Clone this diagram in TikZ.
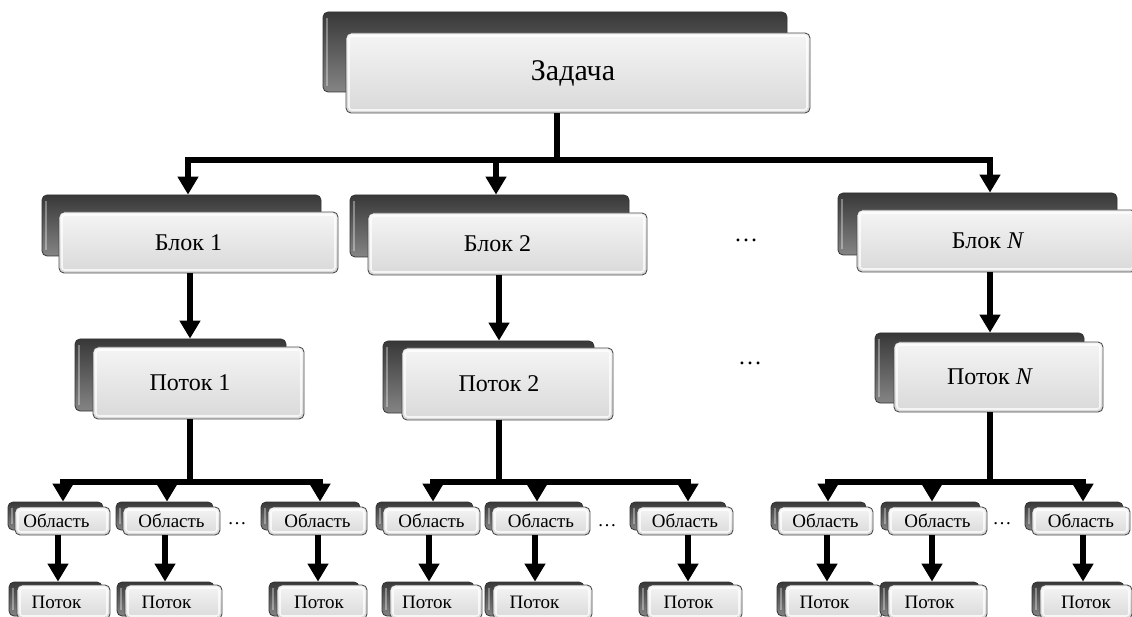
\documentclass[tikz,border=0pt]{standalone}
\usepackage{fontspec}
\setmainfont{Liberation Serif}
\usetikzlibrary{arrows.meta}
\tikzset{
  frontbox/.style={draw=black!70, line width=0.9pt, rounded corners=5pt, inner sep=0pt,
    top color=gray!8, bottom color=gray!30,
    path picture={\draw[white,opacity=.75,line width=1.6pt,rounded corners=3pt]
      ([shift={(3pt,-3pt)}]path picture bounding box.north west) rectangle
      ([shift={(-3pt,3pt)}]path picture bounding box.south east);}},
  backbox/.style={draw=black!80, line width=0.8pt, rounded corners=5pt, inner sep=0pt,
    top color=black!78, bottom color=black!48,
    path picture={\draw[white,opacity=.35,line width=1.5pt]
      ([shift={(4pt,-6pt)}]path picture bounding box.north west) --
      ([shift={(4pt,6pt)}]path picture bounding box.south west);}},
  ln/.style={line width=6pt},
  arr/.style={line width=6pt, -{Triangle[width=20pt,length=18pt]}},
  big/.style={font=\fontsize{30}{34}\selectfont},
  mid/.style={font=\fontsize{24}{27}\selectfont},
  small/.style={font=\fontsize{19}{21}\selectfont},
  dotsnode/.style={inner sep=0pt}
}
\newcommand\dbl[9]{%
  \node[backbox,minimum width=#5pt,minimum height=#6pt] (#1b) at ({#3+#7},{#4+#8}) {};
  \node[frontbox,#2,minimum width=#5pt,minimum height=#6pt] (#1) at (#3,#4) {#9};
}
\begin{document}
\begin{tikzpicture}[x=1pt,y=-1pt]
\useasboundingbox (0,0) rectangle (1132,617);
% top
\dbl{top}{big}{578}{73}{464}{80}{-23}{-21}{Задача\kern10pt}
% blocks
\dbl{b1}{mid}{198.5}{242.5}{279}{61}{-17}{-17}{Блок 1\kern20pt}
\dbl{b2}{mid}{507.5}{244}{279}{62}{-18}{-18}{Блок 2\kern20pt}
\dbl{b3}{mid}{996.5}{241}{279}{62}{-19}{-17}{Блок \textit{N}\kern17pt}
% threads
\dbl{p1}{mid}{198.5}{383}{211}{72}{-18}{-8}{Поток 1\kern17pt}
\dbl{p2}{mid}{507.5}{384}{211}{72}{-19}{-7}{Поток 2\kern17pt}
\dbl{p3}{mid}{998.5}{377}{209}{70}{-19}{-9}{Поток \textit{N}\kern17pt}
% dots
\node[dotsnode,mid] (dA) at (746,240) {\dots};
\node[dotsnode,mid] (dB) at (750,363) {\dots};
% areas
\dbl{a11}{small}{62.5}{521}{95}{28}{-7}{-5}{Область\kern12pt}
\dbl{a12}{small}{171.5}{521}{97}{28}{-7}{-5}{Область}
\dbl{a13}{small}{317.5}{521}{99}{28}{-7}{-5}{Область}
\dbl{a21}{small}{431.5}{521}{97}{28}{-7}{-5}{Область}
\dbl{a22}{small}{541}{521}{98}{28}{-7}{-5}{Область}
\dbl{a23}{small}{685}{521}{96}{28}{-7}{-5}{Область}
\dbl{a31}{small}{825.5}{521}{95}{28}{-7}{-5}{Область}
\dbl{a32}{small}{937.5}{521}{99}{28}{-7}{-5}{Область}
\dbl{a33}{small}{1081}{521}{98}{28}{-7}{-5}{Область}
\node[dotsnode,small] (d1) at (237,524) {\dots};
\node[dotsnode,small] (d2) at (607,526) {\dots};
\node[dotsnode,small] (d3) at (1002,524) {\dots};
% small threads
\dbl{q11}{small}{63.5}{602}{93}{34}{-8}{-3}{Поток\kern14pt}
\dbl{q12}{small}{173.5}{602}{97}{34}{-8}{-3}{Поток\kern14pt}
\dbl{q13}{small}{322}{602}{90}{34}{-8}{-3}{Поток\kern6pt}
\dbl{q21}{small}{436}{602}{92}{34}{-8}{-3}{Поток\kern18pt}
\dbl{q22}{small}{542.5}{602}{99}{34}{-8}{-3}{Поток\kern16pt}
\dbl{q23}{small}{694.5}{602}{95}{34}{-8}{-3}{Поток\kern12pt}
\dbl{q31}{small}{833.5}{602}{97}{34}{-8}{-3}{Поток\kern18pt}
\dbl{q32}{small}{937.5}{602}{99}{34}{-8}{-3}{Поток\kern16pt}
\dbl{q33}{small}{1086}{602}{92}{34}{-8}{-3}{Поток}
% top connectors
\coordinate (h0) at (557,160);
\coordinate (t1) at (188,160);
\coordinate (t2) at (496,160);
\coordinate (t3) at (990,160);
\draw[ln] (h0 |- top.south) -- (h0);
\draw[ln,line cap=rect] (t1) -- (t3);
\draw[arr] (t1) -- (t1 |- b1b.north);
\draw[arr] (t2) -- (t2 |- b2b.north);
\draw[arr] (t3) -- (t3 |- b3b.north);
% block -> thread
\coordinate (c1) at (190,0);
\coordinate (c2) at (499,0);
\coordinate (c3) at (990,0);
\draw[arr] (c1 |- b1.south) -- (c1 |- p1b.north);
\draw[arr] (c2 |- b2.south) -- (c2 |- p2b.north);
\draw[arr] (c3 |- b3.south) -- (c3 |- p3b.north);
% thread -> bus
\coordinate (g1) at (190,482);
\coordinate (g2) at (499,482);
\coordinate (g3) at (990,482);
\draw[ln] (c1 |- p1.south) -- (g1);
\draw[ln] (c2 |- p2.south) -- (g2);
\draw[ln] (c3 |- p3.south) -- (g3);
% group 1
\coordinate (u11) at (63,482); \coordinate (u12) at (167,482); \coordinate (u13) at (320,482);
\draw[ln,line cap=rect] (u11) -- (u13);
\draw[arr] (u11) -- (u11 |- a11b.north);
\draw[arr] (u12) -- (u12 |- a12b.north);
\draw[arr] (u13) -- (u13 |- a13b.north);
\coordinate (v11) at (58,0); \coordinate (v12) at (165,0); \coordinate (v13) at (318,0);
\draw[arr] (v11 |- a11.south) -- (v11 |- q11b.north);
\draw[arr] (v12 |- a12.south) -- (v12 |- q12b.north);
\draw[arr] (v13 |- a13.south) -- (v13 |- q13b.north);
% group 2
\coordinate (u21) at (433,482); \coordinate (u22) at (537,482); \coordinate (u23) at (688,482);
\draw[ln,line cap=rect] (u21) -- (u23);
\draw[arr] (u21) -- (u21 |- a21b.north);
\draw[arr] (u22) -- (u22 |- a22b.north);
\draw[arr] (u23) -- (u23 |- a23b.north);
\coordinate (v21) at (429,0); \coordinate (v22) at (535,0); \coordinate (v23) at (688,0);
\draw[arr] (v21 |- a21.south) -- (v21 |- q21b.north);
\draw[arr] (v22 |- a22.south) -- (v22 |- q22b.north);
\draw[arr] (v23 |- a23.south) -- (v23 |- q23b.north);
% group 3
\coordinate (u31) at (828,482); \coordinate (u32) at (932,482); \coordinate (u33) at (1083,482);
\draw[ln,line cap=rect] (u31) -- (u33);
\draw[arr] (u31) -- (u31 |- a31b.north);
\draw[arr] (u32) -- (u32 |- a32b.north);
\draw[arr] (u33) -- (u33 |- a33b.north);
\coordinate (v31) at (827,0); \coordinate (v32) at (932,0); \coordinate (v33) at (1083,0);
\draw[arr] (v31 |- a31.south) -- (v31 |- q31b.north);
\draw[arr] (v32 |- a32.south) -- (v32 |- q32b.north);
\draw[arr] (v33 |- a33.south) -- (v33 |- q33b.north);
\end{tikzpicture}
\end{document}
